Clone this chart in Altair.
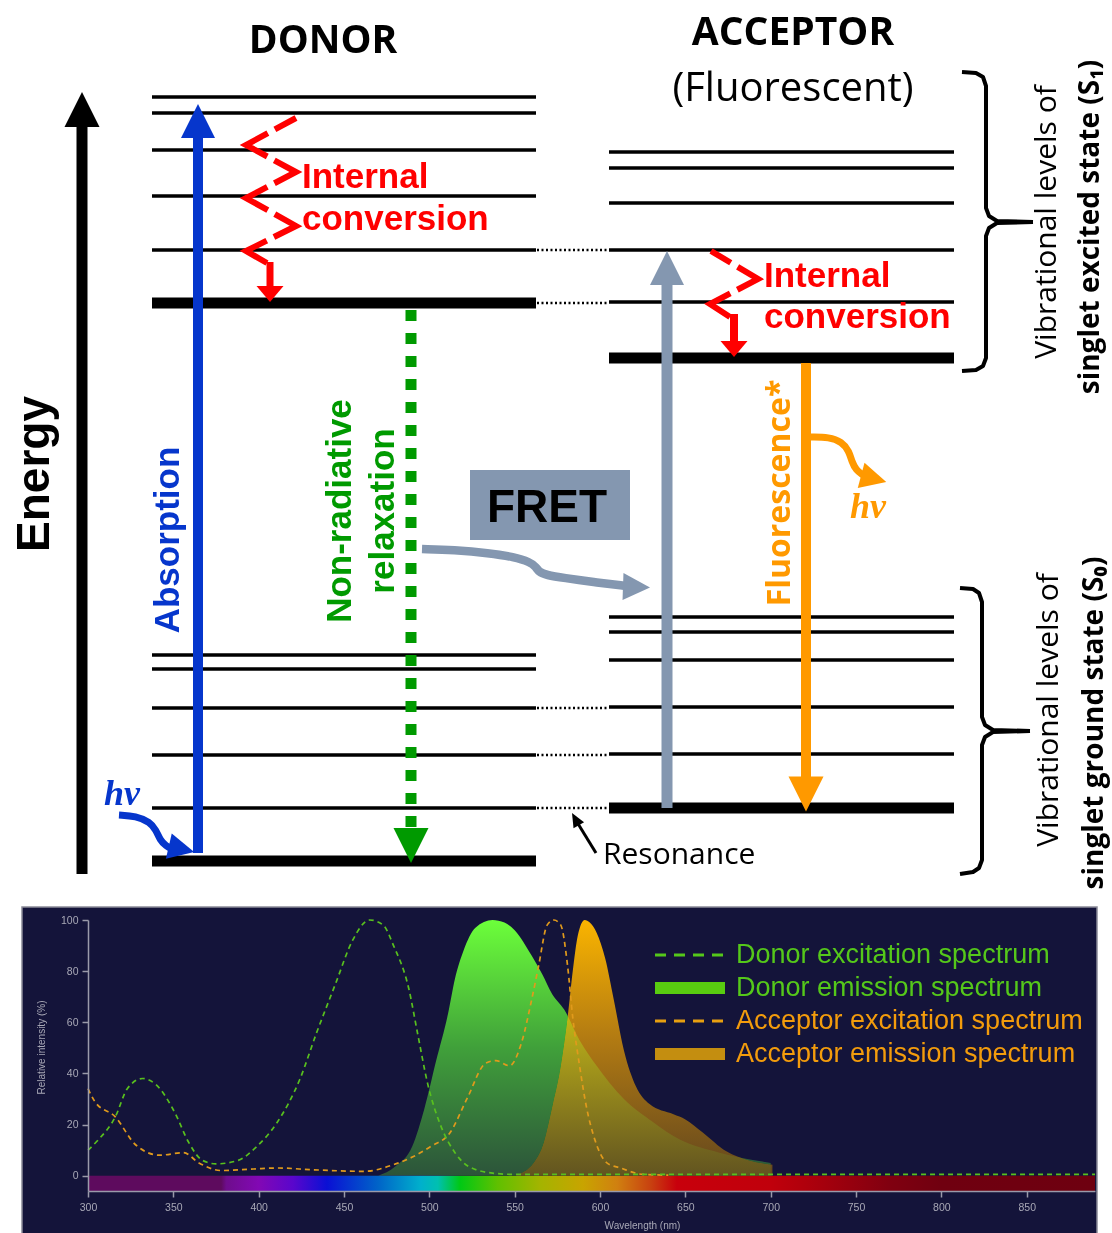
import altair as alt
import pandas as pd

W, H = 1112, 1233

# ---------------- Jablonski diagram data (diagram units, y grows downward) ----------------
donor_thin_levels = [97, 113, 150, 196, 250, 655, 669, 708, 755, 808]
donor_thick_levels = [303, 861]
acceptor_thin_levels = [152, 168, 203, 250, 302, 617, 632, 660, 707, 754]
acceptor_thick_levels = [358, 808]
resonance_levels = [250, 303, 708, 755, 808]

# ---------------- spectra ----------------
donor_exc_wl = [300, 306, 316, 323, 332, 340, 351, 359, 367, 375, 388, 399, 411, 424, 434, 445,
                455, 465, 473, 479, 488, 493, 499, 507, 515, 523, 537, 549, 600, 700, 800, 890]
donor_exc_int = [10, 14, 23, 34, 38, 35.5, 24.5, 13, 6, 4.6, 6, 11.5, 21, 37.5, 56, 75,
                 92, 100, 98, 90, 73, 56, 36, 19, 9, 3.6, 1, 0.5, 0.5, 0.5, 0.5, 0.5]

acc_exc_wl = [300, 304, 316, 328, 342, 356, 365, 378, 397, 411, 432, 462, 479, 491, 501, 512, 522,
              533, 539, 547, 554, 560, 564, 569, 573, 577, 581, 584, 588, 592, 597, 604, 612, 625, 640]
acc_exc_int = [34, 29, 23, 12, 8, 9, 5, 2, 2.6, 3, 2.3, 1.7, 4.3, 7.6, 11.5, 16.7, 30,
               44, 45, 43, 52, 69, 82, 98, 100, 98, 82, 62, 43, 27, 14, 5, 3, 0.5, 0.2]

donor_em_wl = [470, 480, 490, 497, 504, 511, 515, 520, 527, 537, 544, 550, 560, 566, 572, 579,
               588, 598, 614, 631, 647, 670, 700]
donor_em_int = [0, 3.6, 11.5, 26, 45, 63.5, 77, 88, 97, 100, 99, 96, 86, 79, 71, 65,
                53, 43, 30, 21, 14, 9, 5]

acc_em_wl = [551, 561, 567, 572, 577, 581, 584, 587, 591, 594, 598, 603, 608, 614, 621, 629,
             643, 650, 660, 674, 687, 701]
acc_em_int = [0.4, 5, 13, 27, 43, 62, 80, 94, 100, 99, 95, 85, 69, 49, 35, 28,
              24, 22, 17, 9.5, 6, 4.3]

bar_wl = [300, 378, 381, 400, 420, 440, 470, 495, 505, 518, 540, 565, 590, 610, 630, 645,
          700, 720, 770, 800, 890]
bar_colors = ['#5e0b5e', '#5e0b5e', '#6e0d8c', '#8208b4', '#5a06cc', '#0a10d4', '#0064c8',
              '#00b0cc', '#00c0b0', '#00c814', '#60c000', '#a4b400', '#c8a400', '#d08010',
              '#c84010', '#c8000c', '#c0000c', '#b0000c', '#800010', '#700010', '#6e0010']

x_ticks = [300, 350, 400, 450, 500, 550, 600, 650, 700, 750, 800, 850]
y_ticks = [0, 20, 40, 60, 80, 100]

legend_labels = ["Donor excitation spectrum", "Donor emission spectrum",
                 "Acceptor excitation spectrum", "Acceptor emission spectrum"]
legend_colors = ['#55c81a', '#55c81a', '#f39c0c', '#f39c0c']

# ---------------- scales ----------------
XS = alt.Scale(domain=[0, W], range=[0, W], nice=False, zero=False)
YS = alt.Scale(domain=[0, H], range=[0, H], nice=False, zero=False)
SX = alt.Scale(domain=[300, 890], range=[88, 1095], nice=False, zero=False)
SY = alt.Scale(domain=[-6, 100], range=[1191, 920], nice=False, zero=False)


def ex(f):
    return alt.X(f, type='quantitative', scale=XS, axis=None)


def ey(f):
    return alt.Y(f, type='quantitative', scale=YS, axis=None)


TRI_UP = "M-1,1L1,1L0,-1Z"
TRI_DOWN = "M-1,-1L1,-1L0,1Z"
TRI_DOWN_FLAT = "M-1,-0.6L1,-0.6L0,0.6Z"
TRI_RIGHT = "M-1,-1L1,0L-1,1Z"
TRI_RIGHT_NARROW = "M-1,-0.86L1,0L-1,0.86Z"

layers = []


def hlines(levels, x0, x1, width, color='black', dash=None):
    df = pd.DataFrame({'y': levels, 'x': [x0] * len(levels), 'x2': [x1] * len(levels)})
    kw = dict(color=color, strokeWidth=width, strokeCap='butt')
    if dash:
        kw['strokeDash'] = dash
    return alt.Chart(df).mark_rule(**kw).encode(x=ex('x'), x2=alt.X2('x2'), y=ey('y'))


def vline(x, y0, y1, width, color, dash=None):
    df = pd.DataFrame({'x': [x], 'y': [y0], 'y2': [y1]})
    kw = dict(color=color, strokeWidth=width, strokeCap='butt')
    if dash:
        kw['strokeDash'] = dash
    return alt.Chart(df).mark_rule(**kw).encode(x=ex('x'), y=ey('y'), y2=alt.Y2('y2'))


def seg(x0, y0, x1, y1, width, color):
    df = pd.DataFrame({'x': [x0], 'y': [y0], 'x2': [x1], 'y2': [y1]})
    return alt.Chart(df).mark_rule(color=color, strokeWidth=width, strokeCap='butt').encode(
        x=ex('x'), y=ey('y'), x2=alt.X2('x2'), y2=alt.Y2('y2'))


def head(x, y, path, box, color, angle=0):
    df = pd.DataFrame({'x': [x], 'y': [y]})
    kw = dict(shape=path, size=box * box, filled=True, color=color, opacity=1, strokeWidth=0)
    if angle:
        kw['angle'] = angle
    return alt.Chart(df).mark_point(**kw).encode(x=ex('x'), y=ey('y'))


def poly(xs, ys, color, width, interp='linear', dash=None, dash_offset=None, join='miter'):
    df = pd.DataFrame({'x': xs, 'y': ys, 'o': list(range(len(xs)))})
    kw = dict(color=color, strokeWidth=width, interpolate=interp, strokeCap='butt', strokeJoin=join)
    if dash:
        kw['strokeDash'] = dash
    if dash_offset is not None:
        kw['strokeDashOffset'] = dash_offset
    return alt.Chart(df).mark_line(**kw).encode(x=ex('x'), y=ey('y'), order='o:Q')


def label(s, x, y, size, color, font, weight='normal', angle=0, align='center',
          baseline='middle', style='normal'):
    df = pd.DataFrame({'x': [x], 'y': [y], 't': [s]})
    kw = dict(fontSize=size, color=color, font=font, fontWeight=weight, align=align,
              baseline=baseline, fontStyle=style)
    if angle:
        kw['angle'] = angle
    return alt.Chart(df).mark_text(**kw).encode(x=ex('x'), y=ey('y'), text='t:N')


def rect(x0, x1, y0, y1, fill, stroke=None, sw=0):
    df = pd.DataFrame({'x': [x0], 'x2': [x1], 'y': [y0], 'y2': [y1]})
    kw = dict(fill=fill, opacity=1)
    if stroke:
        kw['stroke'] = stroke
        kw['strokeWidth'] = sw
    return alt.Chart(df).mark_rect(**kw).encode(x=ex('x'), x2=alt.X2('x2'), y=ey('y'), y2=alt.Y2('y2'))


# ================= spectrum panel =================
NAVY = '#14143a'
AX = '#9a9aaa'
layers.append(rect(22, 1097, 907, 1250, NAVY, stroke='#8a8a98', sw=1.5))

stops = [alt.GradientStop(offset=(w - 300) / 590.0, color=c) for w, c in zip(bar_wl, bar_colors)]
cb_df = pd.DataFrame({'a': [300], 'a2': [890], 'b': [-6], 'b2': [0]})
colorbar = alt.Chart(cb_df).mark_rect(
    color=alt.Gradient(gradient='linear', stops=stops, x1=0, x2=1, y1=0, y2=0)
).encode(
    x=alt.X('a:Q', scale=SX, axis=alt.Axis(
        orient='bottom', offset=-42, values=x_ticks, grid=False, title='Wavelength (nm)',
        titleX=642, titleY=34, titleBaseline='middle', titleAlign='center', zindex=2,
        domainColor=AX, domainWidth=1.5, tickColor=AX, tickWidth=1.5, tickSize=6,
        labelColor='#a8a8b6', labelFont='Liberation Sans', labelFontSize=10.5, labelPadding=5,
        labelFlush=False, titleColor='#a8a8b6', titleFont='Liberation Sans', titleFontSize=10,
        titleFontWeight='normal')),
    x2=alt.X2('a2'),
    y=alt.Y('b:Q', scale=SY, axis=alt.Axis(
        orient='left', offset=-88, values=y_ticks, grid=False, title='Relative intensity (%)',
        titleX=-47, titleY=1047, titleBaseline='middle', titleAlign='center', titleAngle=270,
        zindex=2,
        domainColor=AX, domainWidth=1.5, tickColor=AX, tickWidth=1.5, tickSize=6,
        labelColor='#a8a8b6', labelFont='Liberation Sans', labelFontSize=10.5, labelPadding=4,
        labelFlush=False, titleColor='#a8a8b6', titleFont='Liberation Sans', titleFontSize=10,
        titleFontWeight='normal')),
    y2=alt.Y2('b2'),
)
layers.append(colorbar)

donor_grad = alt.Gradient(gradient='linear', x1=0, x2=0, y1=0, y2=1, stops=[
    alt.GradientStop(offset=0, color='#6cff00'),
    alt.GradientStop(offset=0.5, color='#40a01a'),
    alt.GradientStop(offset=1, color='#2c5420')])
acc_grad = alt.Gradient(gradient='linear', x1=0, x2=0, y1=0, y2=1, stops=[
    alt.GradientStop(offset=0, color='#fab400'),
    alt.GradientStop(offset=0.45, color='#b47c12'),
    alt.GradientStop(offset=1, color='#62461e')])

de = pd.DataFrame({'wl': donor_em_wl, 'v': donor_em_int})
ae = pd.DataFrame({'wl': acc_em_wl, 'v': acc_em_int})
layers.append(alt.Chart(ae).mark_area(color=acc_grad, opacity=1, interpolate='monotone').encode(
    x=alt.X('wl:Q', scale=SX, axis=None), y=alt.Y('v:Q', scale=SY, axis=None), y2=alt.datum(0)))
layers.append(alt.Chart(de).mark_area(color=donor_grad, opacity=1, blend='lighten',
                                      interpolate='monotone').encode(
    x=alt.X('wl:Q', scale=SX, axis=None), y=alt.Y('v:Q', scale=SY, axis=None), y2=alt.datum(0)))

dx = pd.DataFrame({'wl': donor_exc_wl, 'v': donor_exc_int})
ax_ = pd.DataFrame({'wl': acc_exc_wl, 'v': acc_exc_int})
layers.append(alt.Chart(ax_).mark_line(color='#e09a1c', strokeWidth=1.7, strokeDash=[5, 4],
                                       interpolate='monotone').encode(
    x=alt.X('wl:Q', scale=SX, axis=None), y=alt.Y('v:Q', scale=SY, axis=None)))
layers.append(alt.Chart(dx).mark_line(color='#58c01e', strokeWidth=1.7, strokeDash=[5, 4],
                                      interpolate='monotone').encode(
    x=alt.X('wl:Q', scale=SX, axis=None), y=alt.Y('v:Q', scale=SY, axis=None)))

# legend
LY0, LDY = 955, 33
layers.append(hlines([LY0], 655, 725, 3, color='#55c81a', dash=[11, 8]))
layers.append(hlines([LY0 + LDY], 655, 725, 12, color='#58cc10'))
layers.append(hlines([LY0 + 2 * LDY], 655, 725, 3, color='#e8a010', dash=[11, 8]))
layers.append(hlines([LY0 + 3 * LDY], 655, 725, 12, color='#c48e10'))
for i, (t, c) in enumerate(zip(legend_labels, legend_colors)):
    layers.append(label(t, 736, LY0 + i * LDY, 27, c, 'Liberation Sans', align='left'))

# ================= Jablonski diagram =================
layers.append(hlines(donor_thin_levels, 152, 536, 3.5))
layers.append(hlines(donor_thick_levels, 152, 536, 11))
layers.append(hlines(acceptor_thin_levels, 609, 954, 3.5))
layers.append(hlines(acceptor_thick_levels, 609, 954, 11))
layers.append(hlines(resonance_levels, 537, 609, 2.5, dash=[2, 2.5]))

# energy axis arrow
layers.append(vline(82, 126, 874, 11, 'black'))
layers.append(head(82, 109.5, TRI_UP, 35, 'black'))

# absorption (blue)
BLUE = '#0636cc'
layers.append(vline(198, 137, 853, 10, BLUE))
layers.append(head(198, 121, TRI_UP, 34, BLUE))
layers.append(poly([119, 136, 150, 156, 160, 166, 172], [815, 816, 822, 830, 840, 846, 849],
                   BLUE, 7, interp='basis', join='round'))
layers.append(head(181.5, 849, TRI_RIGHT, 26, BLUE, angle=13))
layers.append(label('hν', 104, 805, 36, BLUE, 'Liberation Serif', weight='bold',
                    align='left', baseline='alphabetic', style='italic'))

# non-radiative relaxation (green dashed)
GREEN = '#009a00'
layers.append(vline(411, 310, 829, 11, GREEN, dash=[11, 12]))
layers.append(head(411, 845.5, TRI_DOWN, 35, GREEN))

# internal conversion (donor)
RED = '#ff0000'
layers.append(poly([296, 246, 296, 246, 296, 246, 267], [118, 145, 172, 198, 226, 251, 263],
                   RED, 6, dash=[49, 8], dash_offset=25))
layers.append(vline(270, 262, 287, 7, RED))
layers.append(head(270, 294, TRI_DOWN_FLAT, 27, RED))
layers.append(label('Internal', 302, 188, 35, RED, 'Liberation Sans', weight='bold',
                    align='left', baseline='alphabetic'))
layers.append(label('conversion', 302, 230, 35, RED, 'Liberation Sans', weight='bold',
                    align='left', baseline='alphabetic'))

# internal conversion (acceptor)
layers.append(poly([711, 758, 710, 730], [251, 279, 304, 317], RED, 6, dash=[47, 8], dash_offset=24))
layers.append(vline(734, 314, 341, 8, RED))
layers.append(head(734, 349, TRI_DOWN_FLAT, 27, RED))
layers.append(label('Internal', 764, 287, 35, RED, 'Liberation Sans', weight='bold',
                    align='left', baseline='alphabetic'))
layers.append(label('conversion', 764, 328, 35, RED, 'Liberation Sans', weight='bold',
                    align='left', baseline='alphabetic'))

# FRET
SLATE = '#8497b0'
layers.append(rect(470, 630, 470, 540, SLATE))
layers.append(label('FRET', 547, 522, 46, 'black', 'Liberation Sans', weight='bold',
                    baseline='alphabetic'))
layers.append(poly([422, 454, 489, 514, 530, 536, 539, 546, 564, 593, 626],
                   [549, 550, 553, 557, 562, 567, 572, 575, 578, 582, 586],
                   SLATE, 8.5, interp='basis', join='round'))
layers.append(head(636.5, 587, TRI_RIGHT, 27, SLATE, angle=2))

# acceptor excitation (slate)
layers.append(vline(667, 285, 808, 11, SLATE))
layers.append(head(667, 268, TRI_UP, 34, SLATE))

# fluorescence (orange)
ORANGE = '#ff9900'
layers.append(vline(806, 363, 778, 10, ORANGE))
layers.append(head(806, 794, TRI_DOWN, 35, ORANGE))
layers.append(poly([811, 829, 842, 849, 852, 856, 863], [437, 437, 442, 451, 462, 470, 475],
                   ORANGE, 7, interp='basis', join='round'))
layers.append(head(873.7, 478.7, TRI_RIGHT, 26, ORANGE, angle=15))
layers.append(label('hν', 850, 518, 36, ORANGE, 'Liberation Serif', weight='bold',
                    align='left', baseline='alphabetic', style='italic'))
layers.append(label('Fluorescence*', 780, 493, 32, ORANGE, 'Open Sans', weight='bold', angle=270))

# resonance
layers.append(seg(596, 853, 578.5, 824.5, 3, 'black'))
layers.append(head(575.4, 819.1, TRI_RIGHT_NARROW, 14, 'black', angle=241))
layers.append(label('Resonance', 603, 864, 30, 'black', 'Open Sans', align='left',
                    baseline='alphabetic'))

# rotated labels
layers.append(label('Energy', 35, 474, 46, 'black', 'Liberation Sans', weight='bold', angle=270))
layers.append(label('Absorption', 168, 540, 35, BLUE, 'Liberation Sans', weight='bold', angle=270))
layers.append(label('Non-radiative', 340, 511, 35, GREEN, 'Liberation Sans', weight='bold', angle=270))
layers.append(label('relaxation', 383, 511, 35, GREEN, 'Liberation Sans', weight='bold', angle=270))

# titles
layers.append(label('DONOR', 323, 53, 39, 'black', 'Open Sans', weight='bold', baseline='alphabetic'))
layers.append(label('ACCEPTOR', 793, 45, 39, 'black', 'Open Sans', weight='bold', baseline='alphabetic'))
layers.append(label('(Fluorescent)', 793, 101, 40, 'black', 'Open Sans', baseline='alphabetic'))

# brackets
layers.append(poly([962, 976, 983, 986, 986, 989, 997, 1033], [72, 73, 77, 86, 208, 216, 221, 222],
                   'black', 4, join='round'))
layers.append(poly([1033, 997, 989, 986, 986, 983, 976, 962], [222, 223, 228, 236, 358, 366, 370, 371],
                   'black', 4, join='round'))
layers.append(poly([960, 973, 979, 982, 982, 985, 993, 1030], [588, 589, 593, 602, 717, 725, 730, 731],
                   'black', 4, join='round'))
layers.append(poly([1030, 993, 985, 982, 982, 979, 973, 960], [731, 732, 737, 745, 860, 868, 872, 874],
                   'black', 4, join='round'))

layers.append(label('Vibrational levels of', 1047, 222, 30, 'black', 'Open Sans', angle=270))
layers.append(label('singlet excited state (S₁)', 1091, 227, 28, 'black', 'Open Sans',
                    weight='bold', angle=270))
layers.append(label('Vibrational levels of', 1049, 710, 30, 'black', 'Open Sans', angle=270))
layers.append(label('singlet ground state (S₀)', 1095, 723, 28, 'black', 'Open Sans',
                    weight='bold', angle=270))

chart = alt.layer(*layers).resolve_scale(x='independent', y='independent').properties(
    width=W, height=H, autosize=alt.AutoSizeParams(type='none'), padding=0,
    background='white'
).configure_view(stroke=None)

chart.save("out.html", embed_options={"renderer": "svg", "actions": False})
